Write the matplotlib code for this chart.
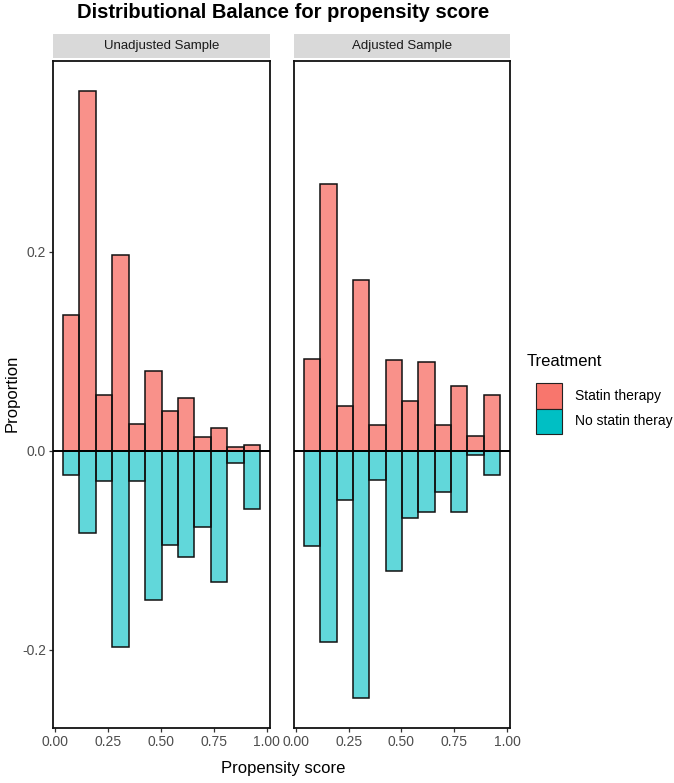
import numpy as np
import matplotlib
matplotlib.use("Agg")
import matplotlib.pyplot as plt
from matplotlib.patches import Rectangle

plt.rcParams['font.family'] = ['Liberation Sans', 'DejaVu Sans']

# histogram bins (12 bins over the observed propensity score range)
bin_lo, bin_hi, n_bins = 0.038, 0.968, 12
panels = ["Unadjusted Sample", "Adjusted Sample"]
groups = ["Statin therapy", "No statin theray"]

unadj_statin = [0.136, 0.361, 0.056, 0.197, 0.027, 0.080, 0.040, 0.053, 0.014, 0.023, 0.004, 0.006]
unadj_nostatin = [0.024, 0.083, 0.030, 0.197, 0.030, 0.150, 0.095, 0.107, 0.077, 0.132, 0.012, 0.059]
adj_statin = [0.092, 0.268, 0.045, 0.171, 0.026, 0.091, 0.050, 0.089, 0.026, 0.065, 0.015, 0.056]
adj_nostatin = [0.096, 0.192, 0.049, 0.248, 0.029, 0.121, 0.068, 0.062, 0.041, 0.062, 0.004, 0.024]

data = {
    "Unadjusted Sample": (unadj_statin, unadj_nostatin),
    "Adjusted Sample": (adj_statin, adj_nostatin),
}

red = "#F8766D"
teal = "#00BFC4"

W, H = 674, 783
fig = plt.figure(figsize=(W / 100, H / 100), dpi=100)


def px_axes(left, top, right, bottom):
    return fig.add_axes([left / W, 1 - bottom / H, (right - left) / W, (bottom - top) / H])


edges = np.linspace(bin_lo, bin_hi, n_bins + 1)
width = edges[1] - edges[0]
xpad = 0.05 * (bin_hi - bin_lo)
ymax = max(unadj_statin + adj_statin)
ymin = -max(unadj_nostatin + adj_nostatin)
ypad = 0.05 * (ymax - ymin)

lefts = [53, 294]
rights = [270, 510]
for i, name in enumerate(panels):
    ax = px_axes(lefts[i], 61, rights[i], 728)
    pos, neg = data[name]
    neg = -np.array(neg)
    ax.bar(edges[:-1], pos, width=width, align='edge', color=red, alpha=0.8,
           edgecolor='none', zorder=2)
    ax.bar(edges[:-1], neg, width=width, align='edge', color=teal, alpha=0.62,
           edgecolor='none', zorder=2)
    ax.bar(edges[:-1], pos, width=width, align='edge', fill=False,
           edgecolor='#111111', lw=1.1, zorder=3)
    ax.bar(edges[:-1], neg, width=width, align='edge', fill=False,
           edgecolor='#111111', lw=1.1, zorder=3)
    ax.axhline(0, color='black', lw=1.4, zorder=4)
    ax.set_xlim(bin_lo - xpad, bin_hi + xpad)
    ax.set_ylim(ymin - ypad, ymax + ypad)
    ax.set_xticks([0, 0.25, 0.5, 0.75, 1.0])
    ax.set_xticklabels(["0.00", "0.25", "0.50", "0.75", "1.00"])
    ax.set_yticks([-0.2, 0.0, 0.2])
    if i == 0:
        ax.set_yticklabels(["-0.2", "0.0", "0.2"])
    else:
        ax.tick_params(axis='y', left=False, labelleft=False)
    ax.tick_params(length=3, width=0.9, color='#333333', labelsize=10,
                   labelcolor='#4D4D4D', pad=2)
    for s in ax.spines.values():
        s.set_linewidth(1.3)
        s.set_color('#111111')

    # facet strip
    sax = px_axes(lefts[i], 34, rights[i], 58)
    sax.add_patch(Rectangle((0, 0), 1, 1, color='#D9D9D9', transform=sax.transAxes))
    sax.set_axis_off()
    sax.text(0.5, 0.5, name, ha='center', va='center', fontsize=9.5, color='#1A1A1A')

fig.text(283 / W, 1 - 13 / H, "Distributional Balance for propensity score",
         ha='center', va='center', fontsize=14.5, fontweight='bold')
fig.text(283 / W, 1 - 768 / H, "Propensity score", ha='center', va='center', fontsize=12)
fig.text(12 / W, 1 - 393 / H, "Proportion", ha='center', va='center', fontsize=12,
         rotation=90)

# legend (drawn by hand to match ggplot key sizes)
key_top, key_h = 383, 25.5
fig.text(527 / W, 1 - 362 / H, "Treatment", ha='left', va='center', fontsize=12)
for j, (lab, col) in enumerate(zip(groups, [red, teal])):
    top = key_top + j * key_h
    fig.add_artist(Rectangle((536 / W, 1 - (top + key_h) / H), 26 / W, key_h / H,
                             facecolor=col, edgecolor='#222222', lw=0.8,
                             transform=fig.transFigure))
    fig.text(575 / W, 1 - (top + key_h / 2) / H, lab, ha='left', va='center', fontsize=10)

fig.savefig("out.png", dpi=100)
